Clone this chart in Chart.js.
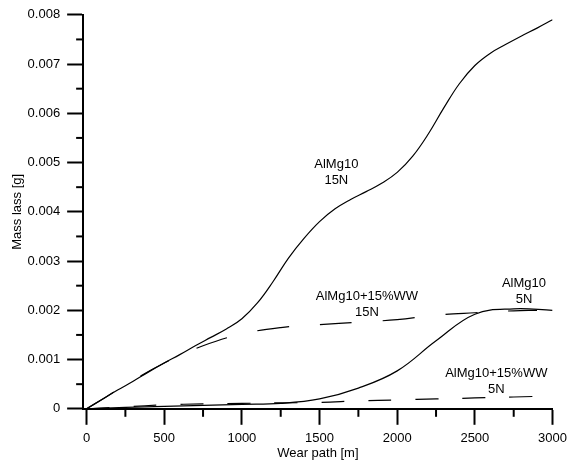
<!DOCTYPE html>
<html>
<head>
<meta charset="utf-8">
<script src="https://cdn.jsdelivr.net/npm/chart.js@4.4.0/dist/chart.umd.min.js"></script>
<style>
  html, body { margin: 0; padding: 0; background: #fff; }
  #wrap { width: 573px; height: 461px; }
</style>
</head>
<body>
<div id="wrap"><canvas id="wearChart"></canvas></div>
<script>
// Wear path [m] samples for each curve
const path15N   = [0, 100, 200, 300, 400, 500, 600, 700, 800, 900, 1000, 1100, 1200, 1300, 1400, 1500, 1600, 1700, 1800, 1900, 2000, 2100, 2200, 2300, 2400, 2500, 2600, 2700, 2800, 2900, 3000];
const path5N    = [0, 250, 500, 750, 1000, 1250, 1500, 1750, 2000, 2250, 2500, 2750, 3000];
const pathWw15N = [0, 250, 500, 750, 1000, 1250, 1500, 1750, 2000, 2250, 2500, 2750, 2900];
const pathWw5N  = [0, 250, 500, 750, 1000, 1250, 1500, 1750, 2000, 2250, 2500, 2750, 3000];

// Mass loss [g]
const alMg15N   = [0, 0.00019, 0.00038, 0.00056, 0.00075, 0.00093, 0.0011, 0.00128, 0.00145, 0.00162, 0.00183, 0.00215, 0.00258, 0.00306, 0.00346, 0.0038, 0.00406, 0.00425, 0.00441, 0.00458, 0.0048, 0.00513, 0.00558, 0.00611, 0.0066, 0.00697, 0.00722, 0.0074, 0.00757, 0.00773, 0.0079];
const alMg5N    = [0, 0.00003, 0.00005, 0.00007, 0.00009, 0.00011, 0.0002, 0.00042, 0.00077, 0.00138, 0.00192, 0.00203, 0.002];
const alMgWw15N = [0, 0.00048, 0.00093, 0.00128, 0.00152, 0.00165, 0.00171, 0.00176, 0.00181, 0.0019, 0.00195, 0.00199, 0.002];
const alMgWw5N  = [0, 0.00004, 0.00008, 0.0001, 0.00011, 0.00012, 0.00013, 0.00016, 0.00018, 0.0002, 0.00022, 0.00024, 0.00026];

// ticks
const xTicks = [0, 500, 1000, 1500, 2000, 2500, 3000];
const xTickLabels = ['0', '500', '1000', '1500', '2000', '2500', '3000'];
const xMinor = [250, 750, 1250, 1750, 2250, 2750];
const yTicks = [0, 0.001, 0.002, 0.003, 0.004, 0.005, 0.006, 0.007, 0.008];
const yTickLabels = ['0', '0.001', '0.002', '0.003', '0.004', '0.005', '0.006', '0.007', '0.008'];
const yMinor = [0.0005, 0.0015, 0.0025, 0.0035, 0.0045, 0.0055, 0.0065, 0.0075];

// curve captions, in data coordinates
const notes = [
  { lines: ['AlMg10', '15N'], x: 1608, y: 0.0048 },
  { lines: ['AlMg10+15%WW', '15N'], x: 1805, y: 0.00211 },
  { lines: ['AlMg10', '5N'], x: 2816, y: 0.00239 },
  { lines: ['AlMg10+15%WW', '5N'], x: 2638, y: 0.00056 }
];

const pts = (xs, ys) => xs.map((x, i) => ({ x: x, y: ys[i] }));

Chart.defaults.font.family = '"Liberation Sans", Arial, sans-serif';
Chart.defaults.font.size = 13;
Chart.defaults.color = '#000';

const extras = {
  id: 'extras',
  afterDraw(chart) {
    const { ctx, scales: { x, y } } = chart;
    ctx.save();
    ctx.strokeStyle = '#000';
    ctx.lineWidth = 2;
    xMinor.forEach(v => {
      const px = x.getPixelForValue(v);
      ctx.beginPath(); ctx.moveTo(px, y.bottom); ctx.lineTo(px, y.bottom + 8); ctx.stroke();
    });
    yMinor.forEach(v => {
      const py = y.getPixelForValue(v);
      ctx.beginPath(); ctx.moveTo(x.left, py); ctx.lineTo(x.left - 7, py); ctx.stroke();
    });
    ctx.fillStyle = '#000';
    ctx.font = '13px "Liberation Sans", Arial, sans-serif';
    ctx.textAlign = 'center';
    ctx.textBaseline = 'middle';
    notes.forEach(n => {
      const cx = x.getPixelForValue(n.x);
      const cy = y.getPixelForValue(n.y);
      n.lines.forEach((t, i) => ctx.fillText(t, cx, cy + (i - (n.lines.length - 1) / 2) * 16));
    });
    ctx.restore();
  }
};

const lineStyle = { borderColor: '#000', borderWidth: 1.2, pointRadius: 0, fill: false, tension: 0.4 };

new Chart(document.getElementById('wearChart'), {
  type: 'line',
  data: {
    datasets: [
      Object.assign({ label: 'AlMg10 15N', data: pts(path15N, alMg15N) }, lineStyle),
      Object.assign({ label: 'AlMg10 5N', data: pts(path5N, alMg5N) }, lineStyle),
      Object.assign({ label: 'AlMg10+15%WW 15N', data: pts(pathWw15N, alMgWw15N), borderDash: [32, 31] }, lineStyle),
      Object.assign({ label: 'AlMg10+15%WW 5N', data: pts(pathWw5N, alMgWw5N), borderDash: [23, 24] }, lineStyle)
    ]
  },
  options: {
    responsive: true,
    maintainAspectRatio: false,
    animation: false,
    layout: { padding: { top: 4, right: 14, left: 10, bottom: 0 } },
    plugins: { legend: { display: false }, tooltip: { enabled: false } },
    scales: {
      x: {
        type: 'linear',
        min: -22, max: 3000,
        afterBuildTicks: s => { s.ticks = xTicks.map(v => ({ value: v })); },
        ticks: { padding: 6, maxRotation: 0, callback: (v) => xTickLabels[xTicks.indexOf(v)] },
        grid: { drawOnChartArea: false, tickLength: 16, tickWidth: 2, tickColor: '#000' },
        border: { display: true, color: '#000', width: 2 },
        title: { display: true, text: 'Wear path [m]', padding: { top: -7, bottom: 0 } }
      },
      y: {
        min: 0, max: 0.008,
        afterBuildTicks: s => { s.ticks = yTicks.map(v => ({ value: v })); },
        ticks: { padding: 7, callback: (v) => yTickLabels[yTicks.indexOf(v)] },
        grid: { drawOnChartArea: false, tickLength: 16, tickWidth: 2, tickColor: '#000' },
        border: { display: true, color: '#000', width: 2 },
        title: { display: true, text: 'Mass lass [g]', padding: { top: 0, bottom: -5 } }
      }
    }
  },
  plugins: [extras]
});
</script>
</body>
</html>
